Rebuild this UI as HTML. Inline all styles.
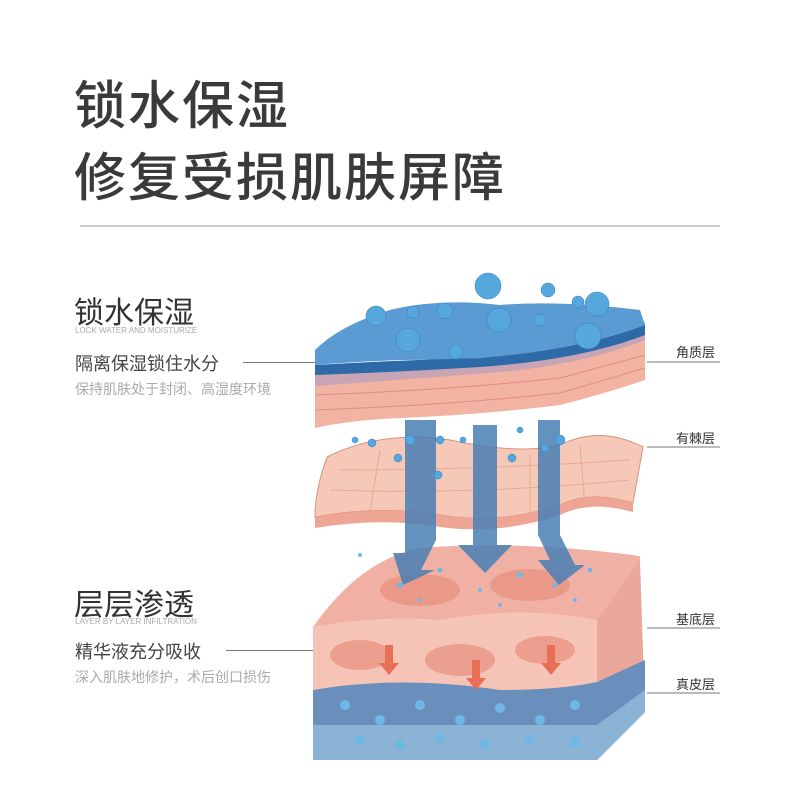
<!DOCTYPE html>
<html><head><meta charset="utf-8"><style>
body{margin:0;width:800px;height:800px;background:#fff;overflow:hidden;position:relative;font-family:"Liberation Sans","Noto Sans CJK SC",sans-serif}
.t{position:absolute;white-space:nowrap}
</style></head><body>
<div class="t" style="left:74px;top:64px;font-size:52px;color:#3a3a3a;font-weight:500;letter-spacing:2px">锁水保湿</div>
<div class="t" style="left:74px;top:136px;font-size:52px;color:#3a3a3a;font-weight:500;letter-spacing:2px">修复受损肌肤屏障</div>
<div style="position:absolute;left:80px;top:225px;width:640px;height:2px;background:#cfcfcf"></div>

<div class="t" style="left:74px;top:288px;font-size:30px;color:#333">锁水保湿</div>
<div class="t" style="left:75px;top:326px;font-size:8px;color:#aaa">LOCK WATER AND MOISTURIZE</div>
<div class="t" style="left:75px;top:350px;font-size:18px;color:#444">隔离保湿锁住水分</div>
<div class="t" style="left:75px;top:379px;font-size:14px;color:#aaa">保持肌肤处于封闭、高湿度环境</div>
<div style="position:absolute;left:243px;top:362px;width:85px;height:1px;background:#777"></div>

<div class="t" style="left:74px;top:580px;font-size:30px;color:#333">层层渗透</div>
<div class="t" style="left:75px;top:617px;font-size:8px;color:#aaa">LAYER BY LAYER INFILTRATION</div>
<div class="t" style="left:75px;top:638px;font-size:18px;color:#444">精华液充分吸收</div>
<div class="t" style="left:75px;top:667px;font-size:14px;color:#aaa">深入肌肤地修护，术后创口损伤</div>
<div style="position:absolute;left:226px;top:650px;width:110px;height:1px;background:#777"></div>

<div class="t" style="left:676px;top:342px;font-size:13px;color:#333">角质层</div>
<div class="t" style="left:676px;top:428px;font-size:13px;color:#333">有棘层</div>
<div class="t" style="left:676px;top:609px;font-size:13px;color:#333">基底层</div>
<div class="t" style="left:676px;top:674px;font-size:13px;color:#333">真皮层</div>

<svg width="800" height="800" style="position:absolute;left:0;top:0">
<g stroke="#777" stroke-width="1">
<line x1="647" y1="362" x2="720" y2="362"/><line x1="647" y1="447" x2="720" y2="447"/>
<line x1="647" y1="628" x2="720" y2="628"/><line x1="647" y1="693" x2="720" y2="693"/>
</g>
<path d="M313,627 Q360,560 420,548 Q520,540 640,556 L640,700 L597,760 L313,760 Z" fill="#f0b1a4"/>
<path d="M313,627 L313,760 L597,760 L597,620 Q520,605 440,620 Q380,615 313,627 Z" fill="#f5c4b6"/>
<path d="M597,620 L640,560 L645,710 L597,760 Z" fill="#e9a89a"/>
<path d="M313,690 Q400,675 500,690 Q560,690 597,682 L645,660 L645,712 L597,760 L313,760 Z" fill="#6b8fbd"/>
<path d="M313,725 L597,725 L645,690 L645,712 L597,760 L313,760 Z" fill="#8ab3d6"/>
<g fill="#e8907f" opacity=".7">
<ellipse cx="360" cy="655" rx="30" ry="15"/><ellipse cx="460" cy="660" rx="35" ry="16"/><ellipse cx="545" cy="650" rx="30" ry="14"/>
<ellipse cx="420" cy="590" rx="40" ry="16"/><ellipse cx="530" cy="585" rx="40" ry="16"/></g>
<g fill="#e86e55"><path d="M385,645 h8 v18 h6 l-10,12 -10,-12 h6z"/><path d="M472,660 h8 v18 h6 l-10,12 -10,-12 h6z"/><path d="M547,645 h8 v18 h6 l-10,12 -10,-12 h6z"/></g>
<path d="M327,457 Q380,430 450,440 Q520,455 560,445 Q600,425 643,447 L633,503 Q590,490 560,505 Q500,525 440,515 Q380,505 315,517 Q315,490 327,457 Z" fill="#f6c8b8" stroke="#d9907f"/>
<path d="M315,517 Q380,505 440,515 Q500,525 560,505 Q590,490 633,503 L633,512 Q590,500 560,515 Q500,535 440,527 Q380,517 315,528 Z" fill="#eea594"/>
<g stroke="#e8a898" stroke-width="1" fill="none">
<path d="M340,470 Q480,470 630,460"/><path d="M330,490 Q480,495 630,480"/>
<path d="M380,450 L370,512"/><path d="M430,445 L425,515"/><path d="M480,450 L480,520"/><path d="M530,455 L530,515"/><path d="M580,445 L585,505"/></g>
<g fill="#4a7fb5" opacity=".85">
<path d="M412,420 h24 v120 l-15,30 h14 l-32,15 -10,-32 h12 l-0,-133z"/>
<path d="M473,425 h24 v120 h15 l-27,28 -27,-28 h15z"/>
<path d="M538,420 h22 v115 l15,30 h10 l-26,20 -21,-25 h12 l-12,-25z"/>
</g>
<path d="M315,380 Q400,375 500,368 Q580,360 645,335 L645,380 Q600,395 560,405 Q480,415 400,418 Q350,420 315,428 Z" fill="#f2b3a2"/>
<path d="M315,395 Q450,390 560,378 L645,355" stroke="#e08e7c" fill="none"/>
<path d="M315,410 Q450,405 560,393 L645,368" stroke="#e08e7c" fill="none"/>
<path d="M315,370 Q400,365 500,360 Q590,350 645,322 L645,340 Q580,365 500,372 Q400,380 315,386 Z" fill="#c9a4b4"/>
<path d="M315,350 Q340,325 390,310 Q440,298 500,305 Q560,300 640,310 L645,325 Q620,345 560,352 Q480,360 400,360 Q350,362 315,365 Z" fill="#5a9bd3"/>
<path d="M315,365 Q400,360 480,358 Q580,350 645,325 L645,335 Q580,360 480,367 Q400,372 315,375 Z" fill="#2f6aa8"/>
<g fill="#56a7de" stroke="#2f7fc0" stroke-width=".5">
<circle cx="376" cy="316" r="10"/><circle cx="408" cy="340" r="12"/><circle cx="445" cy="311" r="8"/><circle cx="488" cy="286" r="13"/><circle cx="499" cy="320" r="12"/><circle cx="548" cy="290" r="7"/><circle cx="597" cy="304" r="12"/><circle cx="588" cy="336" r="13"/><circle cx="456" cy="352" r="7"/><circle cx="540" cy="320" r="6"/><circle cx="413" cy="312" r="6"/><circle cx="578" cy="302" r="6"/>
<circle cx="410" cy="440" r="5"/><circle cx="440" cy="440" r="4"/><circle cx="560" cy="440" r="5"/><circle cx="372" cy="443" r="4"/><circle cx="438" cy="475" r="4"/><circle cx="520" cy="430" r="3"/>
<circle cx="355" cy="440" r="3"/><circle cx="398" cy="458" r="4"/><circle cx="512" cy="458" r="4"/><circle cx="545" cy="448" r="4"/><circle cx="463" cy="440" r="3"/>
</g>
<g fill="#6fb8e6">
<circle cx="360" cy="555" r="2"/><circle cx="400" cy="585" r="3"/><circle cx="440" cy="570" r="2.5"/><circle cx="480" cy="590" r="2"/><circle cx="520" cy="575" r="3"/><circle cx="555" cy="585" r="2.5"/><circle cx="590" cy="570" r="2.5"/><circle cx="420" cy="600" r="2"/><circle cx="500" cy="605" r="2"/><circle cx="575" cy="600" r="2"/>
<circle cx="345" cy="705" r="5"/><circle cx="380" cy="720" r="5"/><circle cx="420" cy="705" r="5"/><circle cx="460" cy="720" r="5"/><circle cx="500" cy="708" r="5"/><circle cx="540" cy="720" r="5"/><circle cx="575" cy="705" r="5"/>
<circle cx="360" cy="740" r="5"/><circle cx="400" cy="745" r="5"/><circle cx="440" cy="738" r="5"/><circle cx="485" cy="745" r="5"/><circle cx="530" cy="740" r="5"/><circle cx="575" cy="742" r="5"/>
</g>
</svg>
</body></html>
